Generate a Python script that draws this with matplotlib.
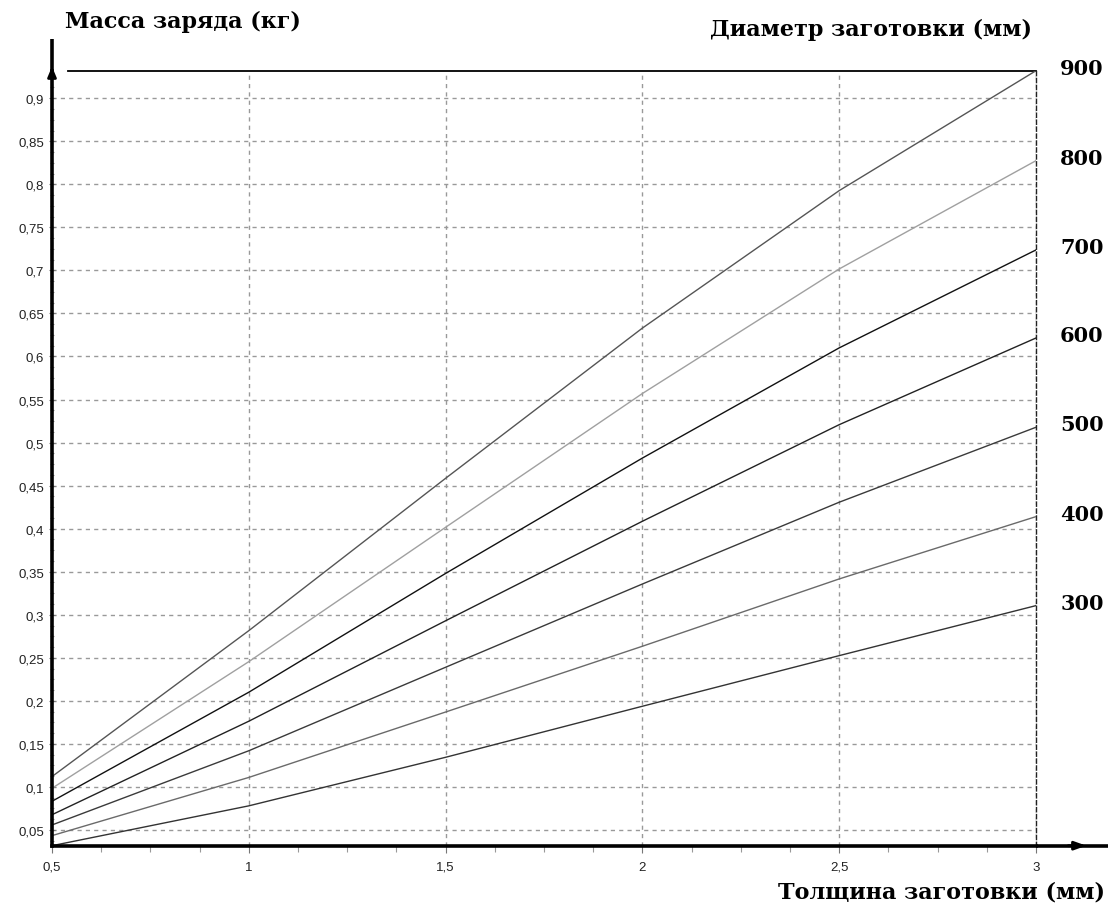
import matplotlib
matplotlib.use("Agg")
import matplotlib.pyplot as plt
from matplotlib.ticker import MultipleLocator, FixedLocator, FuncFormatter

thickness = [0.5, 1.0, 1.5, 2.0, 2.5, 3.0]
diameters = [300, 400, 500, 600, 700, 800, 900]
mass_300 = [0.0317, 0.078, 0.1344, 0.1937, 0.2525, 0.3106]
mass_400 = [0.0434, 0.111, 0.187, 0.2634, 0.3416, 0.414]
mass_500 = [0.0558, 0.142, 0.239, 0.3357, 0.4307, 0.5178]
mass_600 = [0.0677, 0.1763, 0.293, 0.4086, 0.5208, 0.6215]
mass_700 = [0.0833, 0.210, 0.348, 0.482, 0.610, 0.7238]
mass_800 = [0.0984, 0.2455, 0.4016, 0.557, 0.7017, 0.8275]
mass_900 = [0.112, 0.2815, 0.4585, 0.633, 0.7927, 0.932]
series = [mass_300, mass_400, mass_500, mass_600, mass_700, mass_800, mass_900]
colors = ['#333333', '#6a6a6a', '#3a3a3a', '#222222', '#111111', '#a0a0a0', '#555555']

x_ticks = [0.5, 1, 1.5, 2, 2.5, 3]
y_ticks = [round(0.05 * i, 2) for i in range(1, 19)]

W, H = 1112, 912
fig = plt.figure(figsize=(W / 100, H / 100), dpi=100)
left, right, top, bottom = 52, 1036, 71.7, 846.7
ax = fig.add_axes([left / W, 1 - bottom / H, (right - left) / W, (bottom - top) / H])

for vals, c in zip(series, colors):
    ax.plot(thickness, vals, color=c, lw=1.0, zorder=3)

ax.set_xlim(0.5, 3.0)
ax.set_ylim(min(mass_300), max(mass_900))

ax.xaxis.set_major_locator(FixedLocator(x_ticks))
ax.xaxis.set_minor_locator(MultipleLocator(0.125))
ax.yaxis.set_major_locator(FixedLocator(y_ticks))
ax.yaxis.set_minor_locator(MultipleLocator(0.0125))

def fmt(v, pos):
    return ('%g' % round(v, 3)).replace('.', ',')

ax.xaxis.set_major_formatter(FuncFormatter(fmt))
ax.yaxis.set_major_formatter(FuncFormatter(fmt))

for lab in ax.get_xticklabels() + ax.get_yticklabels():
    lab.set_fontfamily('Liberation Sans')
    lab.set_fontsize(9.5)
    lab.set_color('#222222')

ax.tick_params(axis='x', which='major', direction='out', length=5, width=0.8, color='#777777', pad=6)
ax.tick_params(axis='x', which='minor', direction='out', length=4, width=0.8, color='#999999')
ax.tick_params(axis='y', which='major', direction='inout', length=5, width=0.8, color='#777777', pad=3)
ax.tick_params(axis='y', which='minor', direction='inout', length=3, width=0.8, color='#999999')

ax.grid(True, which='major', color='#999999', lw=1.0, linestyle=(0, (3, 3)), zorder=1)

ax.spines['left'].set_linewidth(2.6)
ax.spines['bottom'].set_linewidth(2.6)
ax.spines['left'].set_zorder(5)
ax.spines['bottom'].set_zorder(5)
ax.spines['top'].set_visible(False)
ax.spines['right'].set_linestyle((0, (3, 2)))
ax.spines['right'].set_color('#222222')
ax.spines['right'].set_linewidth(1.0)

# top border (solid, starting slightly right of the y axis)
ax.plot([0.016, 1.0], [1.0, 1.0], transform=ax.transAxes, color='black', lw=1.3, clip_on=False)

# axis extensions with arrows
ax.plot([0, 0], [1.0, 1.041], transform=ax.transAxes, color='black', lw=2.6, clip_on=False,
        solid_capstyle='butt')
ax.annotate('', xy=(0, 1.009), xytext=(0, 0.99), xycoords='axes fraction',
            arrowprops=dict(arrowstyle='-|>,head_length=0.6,head_width=0.25', color='black', lw=2.0),
            annotation_clip=False)
ax.plot([1.0, 1.0732], [0, 0], transform=ax.transAxes, color='black', lw=2.6, clip_on=False,
        solid_capstyle='butt')
ax.annotate('', xy=(1.054, 0), xytext=(1.03, 0), xycoords='axes fraction',
            arrowprops=dict(arrowstyle='-|>,head_length=0.7,head_width=0.25', color='black', lw=2.0),
            annotation_clip=False)

serif = 'DejaVu Serif'

# diameter labels at the line ends
for d, vals in zip(diameters, series):
    ax.annotate(str(d), xy=(thickness[-1], vals[-1]), xytext=(33, 2), textcoords='offset points',
                ha='center', va='center', fontsize=15, fontweight='bold',
                family=serif, color='black', annotation_clip=False)

fig.text(65 / W, 1 - 22 / H, 'Масса заряда (кг)', ha='left', va='center',
         fontsize=16, fontweight='bold', family=serif)
fig.text(1032 / W, 1 - 30 / H, 'Диаметр заготовки (мм)', ha='right', va='center',
         fontsize=16, fontweight='bold', family=serif)
fig.text(1105 / W, 1 - 893 / H, 'Толщина заготовки (мм)', ha='right', va='center',
         fontsize=16, fontweight='bold', family=serif)

fig.savefig('out.png', dpi=100, facecolor='white')
